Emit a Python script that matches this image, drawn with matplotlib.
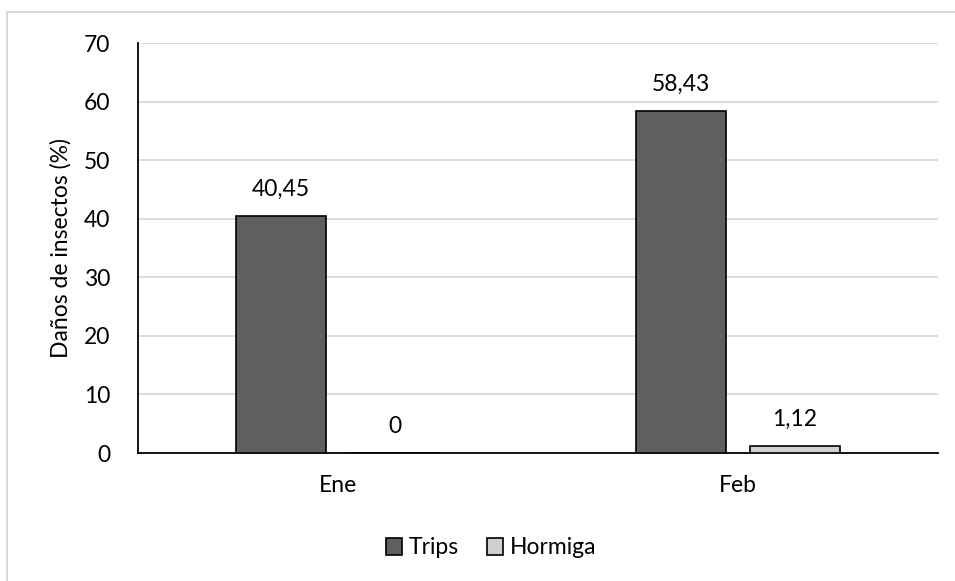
import numpy as np
import matplotlib
matplotlib.use('Agg')
import matplotlib.pyplot as plt
from matplotlib.patches import Rectangle

meses = ['Ene', 'Feb']
trips = [40.45, 58.43]
hormiga = [0, 1.12]
etiquetas_trips = ['40,45', '58,43']
etiquetas_hormiga = ['0', '1,12']
yticks = [0, 10, 20, 30, 40, 50, 60, 70]

plt.rcParams['font.family'] = ['Lato', 'DejaVu Sans']
fs = 16.5

fig = plt.figure(figsize=(9.55, 5.81), dpi=100)
ax = fig.add_axes([138 / 955, 128 / 581, 800 / 955, 410 / 581])

# marco exterior del gráfico (sólo bordes superior e izquierdo visibles)
fig.patches.append(Rectangle((7 / 955, -0.1), 1.2, (581 - 12) / 581 + 0.1,
                             transform=fig.transFigure, fill=False,
                             edgecolor='#d9d9d9', lw=1.5, zorder=0))

x = np.arange(len(meses))
ancho = 0.225
sep = 0.1425
b1 = ax.bar(x - sep, trips, ancho, color='#606060', edgecolor='black', lw=1.2, label='Trips', zorder=3)
b2 = ax.bar(x + sep, hormiga, ancho, color='#d0d0d0', edgecolor='black', lw=1.2, label='Hormiga', zorder=3)

# etiquetas de valor sobre cada barra
for barras, textos in [(b1, etiquetas_trips), (b2, etiquetas_hormiga)]:
    for rect, t in zip(barras, textos):
        ax.annotate(t, (rect.get_x() + rect.get_width() / 2, rect.get_height()),
                    xytext=(0, 14.5), textcoords='offset points',
                    ha='center', va='baseline', fontsize=fs)

ax.set_xlim(-0.5, 1.5)
ax.set_ylim(0, 70)
ax.set_yticks(yticks)
ax.set_xticks(x)
ax.set_xticklabels(meses)
ax.tick_params(axis='both', length=0, labelsize=fs)
ax.tick_params(axis='x', pad=16)
ax.tick_params(axis='y', pad=20)
ax.grid(axis='y', color='#d9d9d9', lw=1.3, zorder=0)
ax.set_axisbelow(True)
for s in ['top', 'right']:
    ax.spines[s].set_visible(False)
ax.spines['left'].set_linewidth(1.3)
ax.spines['bottom'].set_linewidth(1.3)
ax.set_ylabel('Daños de insectos (%)', fontsize=fs, labelpad=9)

fig.legend(handles=[b1, b2], labels=['Trips', 'Hormiga'], loc='center',
           bbox_to_anchor=(491 / 955, 1 - 548 / 581), ncol=2, frameon=False,
           fontsize=fs, handlelength=0.7, handleheight=0.7, handletextpad=0.3,
           columnspacing=1.2)

fig.savefig('out.png', dpi=100)
